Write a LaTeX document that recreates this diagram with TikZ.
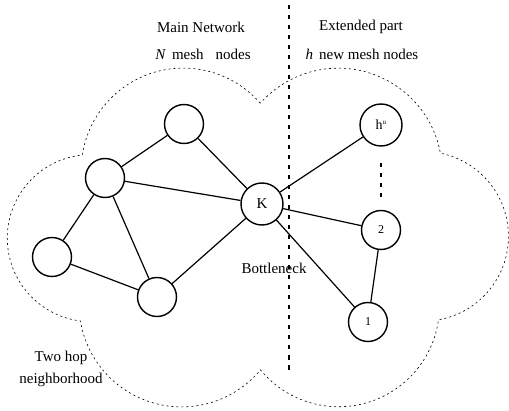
\documentclass[tikz,border=0pt]{standalone}
\usepackage{fontspec}
\setmainfont{Liberation Serif}

\begin{document}
\begin{tikzpicture}
  [x=1pt, y=1pt,
   mesh/.style={draw, circle, line width=1.4pt, inner sep=1pt, minimum size=39pt,
                font=\fontsize{12}{12}\selectfont},
   big/.style={minimum size=42pt, font=\fontsize{15}{15}\selectfont},
   link/.style={line width=1.2pt},
   txt/.style={font=\fontsize{15}{22}\selectfont},
   outline/.style={line width=0.6pt, dash pattern=on 2pt off 3pt},
   divider/.style={line width=1.8pt, dash pattern=on 4.5pt off 5.5pt}]
  \useasboundingbox (0,0) rectangle (509,410);

  % two hop neighborhood
  \draw [outline] (260.2,306.8)
     arc[start angle=41,    end angle=171.5, radius=102]
     arc[start angle=95.8,  end angle=262.9, radius=83.5]
     arc[start angle=189.3, end angle=320.3, radius=102.5]
     arc[start angle=219.4, end angle=352,   radius=101]
     arc[start angle=-79.9, end angle=78.6,  radius=84.8]
     arc[start angle=10.5,  end angle=138.4, radius=104] -- cycle;

  % mesh nodes
  \node [mesh] (a) at (184,286) {};
  \node [mesh] (b) at (105,232) {};
  \node [mesh] (c) at (52,153) {};
  \node [mesh] (d) at (157,113) {};
  \node [mesh, big] (k) at (262,206) {K};
  \node [mesh, big, font=\fontsize{14}{14}\selectfont] (hu) at (381,285)
        {h\textsuperscript{\fontsize{7}{7}\selectfont u}};
  \node [mesh] (n2) at (381,180) {2};
  \node [mesh] (n1) at (368,88) {1};

  \draw [link] (a) -- (b) (a) -- (k) (b) -- (k) (b) -- (c) (b) -- (d)
               (c) -- (d) (d) -- (k) (k) -- (hu) (k) -- (n2) (k) -- (n1)
               (n2) -- (n1);

  % split between main network and extension
  \coordinate (top) at (289,405);
  \coordinate (bottom) at (289,39);
  \draw [divider] (top) -- (bottom);
  \coordinate (gapa) at (381,247);
  \coordinate (gapb) at (381,210);
  \draw [divider, line width=1.5pt] (gapa) -- (gapb);

  % texts
  \node [txt] (main) at (201,383) {Main Network};
  \node [txt] (mainsub) at (203,356) {\textit{N}\hspace{6pt}mesh\hspace{12pt}nodes};
  \node [txt] (ext) at (361,383) {Extended part};
  \node [txt] (extsub) at (362,356) {\textit{h}\hspace{6pt}new mesh nodes};
  \node [txt] (neck) at (274,142) {Bottleneck};
  \node [txt, align=center] (hop) at (61,41) {Two hop\\neighborhood};
\end{tikzpicture}
\end{document}
